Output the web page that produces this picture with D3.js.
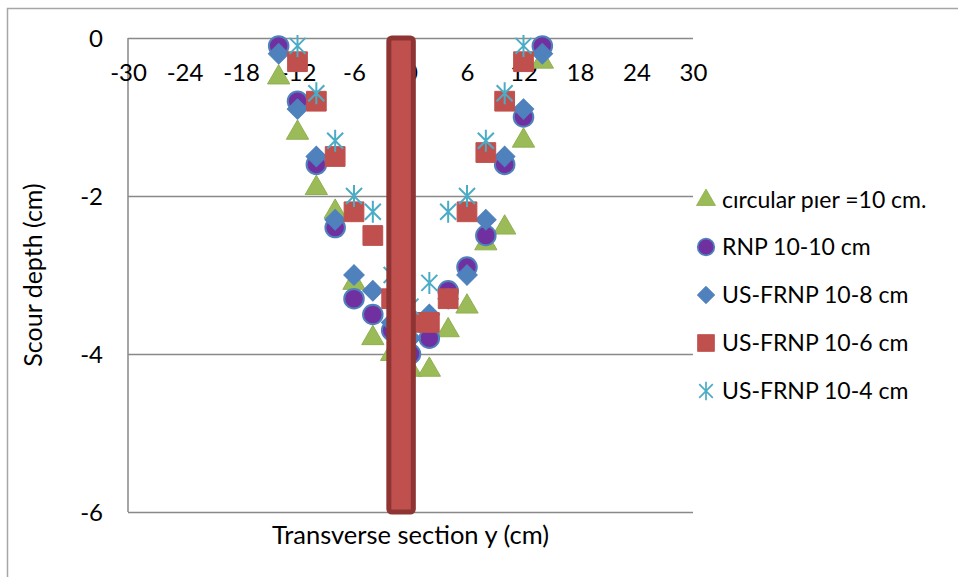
<!DOCTYPE html>
<html>
<head>
<meta charset="utf-8">
<script src="https://cdn.jsdelivr.net/npm/d3@7"></script>
<style>
  body { margin: 0; background: #fff; }
  svg text { font-family: Lato, "Open Sans", sans-serif; fill: #000; }
</style>
</head>
<body>
<svg id="chart" width="958" height="577"></svg>
<script>
// transverse positions y (cm)
var positions = [-14, -12, -10, -8, -6, -4, -2, 0, 2, 4, 6, 8, 10, 12, 14];

// scour depth (cm) per series, null = no point
var circularPier = [-0.5, -1.2, -1.9, -2.2, -3.1, -3.8, -4.0, -4.2, -4.2, -3.7, -3.4, -2.6, -2.4, -1.3, -0.3];
var rnp10_10     = [-0.1, -0.8, -1.6, -2.4, -3.3, -3.5, -3.7, -4.0, -3.8, -3.2, -2.9, -2.5, -1.6, -1.0, -0.1];
var usfrnp10_8   = [-0.2, -0.9, -1.5, -2.3, -3.0, -3.2, -3.6, -3.8, -3.5, -3.3, -3.0, -2.3, -1.5, -0.9, -0.2];
var usfrnp10_6   = [null, -0.3, -0.8, -1.5, -2.2, -2.5, -3.3, -3.6, -3.6, -3.3, -2.2, -1.45, -0.8, -0.3, null];
var usfrnp10_4   = [null, -0.1, -0.7, -1.3, -2.0, -2.2, -3.0, -3.4, -3.1, -2.2, -2.0, -1.3, -0.7, -0.1, null];

var seriesNames = ["c\u0131rcular p\u0131er =10 cm.", "RNP 10-10 cm", "US-FRNP 10-8 cm", "US-FRNP 10-6 cm", "US-FRNP 10-4 cm"];

// the pier itself, drawn as a column
var pierSpan = [-2.3, 0.3];
var pierDepth = -6;

var xTicks = [-30, -24, -18, -12, -6, 0, 6, 12, 18, 24, 30];
var yTicks = [0, -2, -4, -6];

var svg = d3.select("#chart");

var padL = 128, padR = 693, padT = 38, padB = 512;

var xScale = d3.scaleLinear().domain([-30, 30]).range([padL, padR]);
var yScale = d3.scaleLinear().domain([-6, 0]).range([padB, padT]);

// plain hyphen minus like the original
var fmt = function(d){ return String(d); };

// outer chart border
svg.append("rect")
	.attr("x", 7.5).attr("y", 8.5)
	.attr("width", 1000).attr("height", 1000)
	.style("fill", "none")
	.style("stroke", "#a6a6a6")
	.style("stroke-width", 1.5);

// horizontal gridlines
var grid = svg.append("g")
	.attr("transform", "translate(" + padL + ",0)")
	.call(d3.axisLeft(yScale).tickValues(yTicks).tickSize(-(padR - padL)).tickFormat(""));
grid.select(".domain").remove();
grid.selectAll("line").style("stroke", "#898989").style("stroke-width", 1.5);

// vertical axis line
svg.append("line")
	.attr("x1", padL).attr("x2", padL)
	.attr("y1", padT).attr("y2", padB)
	.style("stroke", "#898989").style("stroke-width", 1.5);

// y tick labels
var yAxis = svg.append("g")
	.attr("transform", "translate(" + padL + ",0)")
	.call(d3.axisLeft(yScale).tickValues(yTicks).tickSize(0).tickPadding(25).tickFormat(fmt));
yAxis.select(".domain").remove();
yAxis.selectAll("text")
	.style("font-size", "24px")
	.style("font-family", "Lato")
	.attr("dy", "0.36em");

// x tick labels sit on the y=0 line
var xAxis = svg.append("g")
	.attr("transform", "translate(0," + yScale(0) + ")")
	.call(d3.axisBottom(xScale).tickValues(xTicks).tickSize(0).tickFormat(fmt));
xAxis.select(".domain").remove();
xAxis.selectAll("text")
	.attr("dy", "0")
	.attr("y", 43)
	.style("font-size", "24px")
	.style("font-family", "Lato");

// axis titles
svg.append("text")
	.attr("x", (padL + padR) / 2)
	.attr("y", 544)
	.attr("text-anchor", "middle")
	.style("font-size", "25.5px")
	.text("Transverse section y (cm)");

svg.append("text")
	.attr("transform", "translate(42," + ((padT + padB) / 2) + ") rotate(-90)")
	.attr("text-anchor", "middle")
	.style("font-size", "25px")
	.text("Scour depth (cm)");

// marker drawers
var triPath = d3.symbol().type(d3.symbolTriangle).size(215)();
var circPath = d3.symbol().type(d3.symbolCircle).size(300)();
var diaPath = d3.symbol().type(d3.symbolSquare).size(210)();
var sqPath = d3.symbol().type(d3.symbolSquare).size(390)();
var starPath = "M0,-11V11M-8,-8L8,8M-8,8L8,-8";

var styles = [
	{path: triPath, fill: "#9bbb59", stroke: "#8fb04e", sw: 1, rot: 0},
	{path: circPath, fill: "#7030a0", stroke: "#4f81bd", sw: 2, rot: 0},
	{path: diaPath, fill: "#4f81bd", stroke: "#4f81bd", sw: 1, rot: 45},
	{path: sqPath, fill: "#c0504d", stroke: "#c0504d", sw: 1, rot: 0},
	{path: starPath, fill: "none", stroke: "#4bacc6", sw: 2, rot: 0}
];

var allSeries = [circularPier, rnp10_10, usfrnp10_8, usfrnp10_6, usfrnp10_4];

var plot = svg.append("g");

allSeries.forEach(function(values, i){
	var st = styles[i];
	var pts = positions.map(function(p, j){ return {x: p, y: values[j]}; })
		.filter(function(d){ return d.y !== null; });
	plot.append("g").selectAll("path")
		.data(pts)
		.enter().append("path")
		.attr("d", st.path)
		.attr("transform", function(d){
			return "translate(" + xScale(d.x) + "," + yScale(d.y) + ") rotate(" + st.rot + ")";
		})
		.style("fill", st.fill)
		.style("stroke", st.stroke)
		.style("stroke-width", st.sw);
});

// pier column on top
svg.append("rect")
	.attr("x", xScale(pierSpan[0]))
	.attr("y", yScale(0))
	.attr("width", xScale(pierSpan[1]) - xScale(pierSpan[0]))
	.attr("height", yScale(pierDepth) - yScale(0))
	.attr("rx", 3)
	.style("fill", "#c0504d")
	.style("stroke", "#8e3533")
	.style("stroke-width", 5);

// legend
var legendY = [200, 247, 295, 343, 391];
var legend = svg.append("g");
seriesNames.forEach(function(name, i){
	var st = styles[i];
	var g = legend.append("g").attr("transform", "translate(706," + legendY[i] + ")");
	g.append("path")
		.attr("d", st.path)
		.attr("transform", "scale(0.85) rotate(" + st.rot + ")")
		.style("fill", st.fill)
		.style("stroke", st.stroke)
		.style("stroke-width", st.sw);
	g.append("text")
		.attr("x", 16)
		.attr("dy", "0.35em")
		.style("font-size", "23px")
		.text(name);
});
</script>
</body>
</html>
